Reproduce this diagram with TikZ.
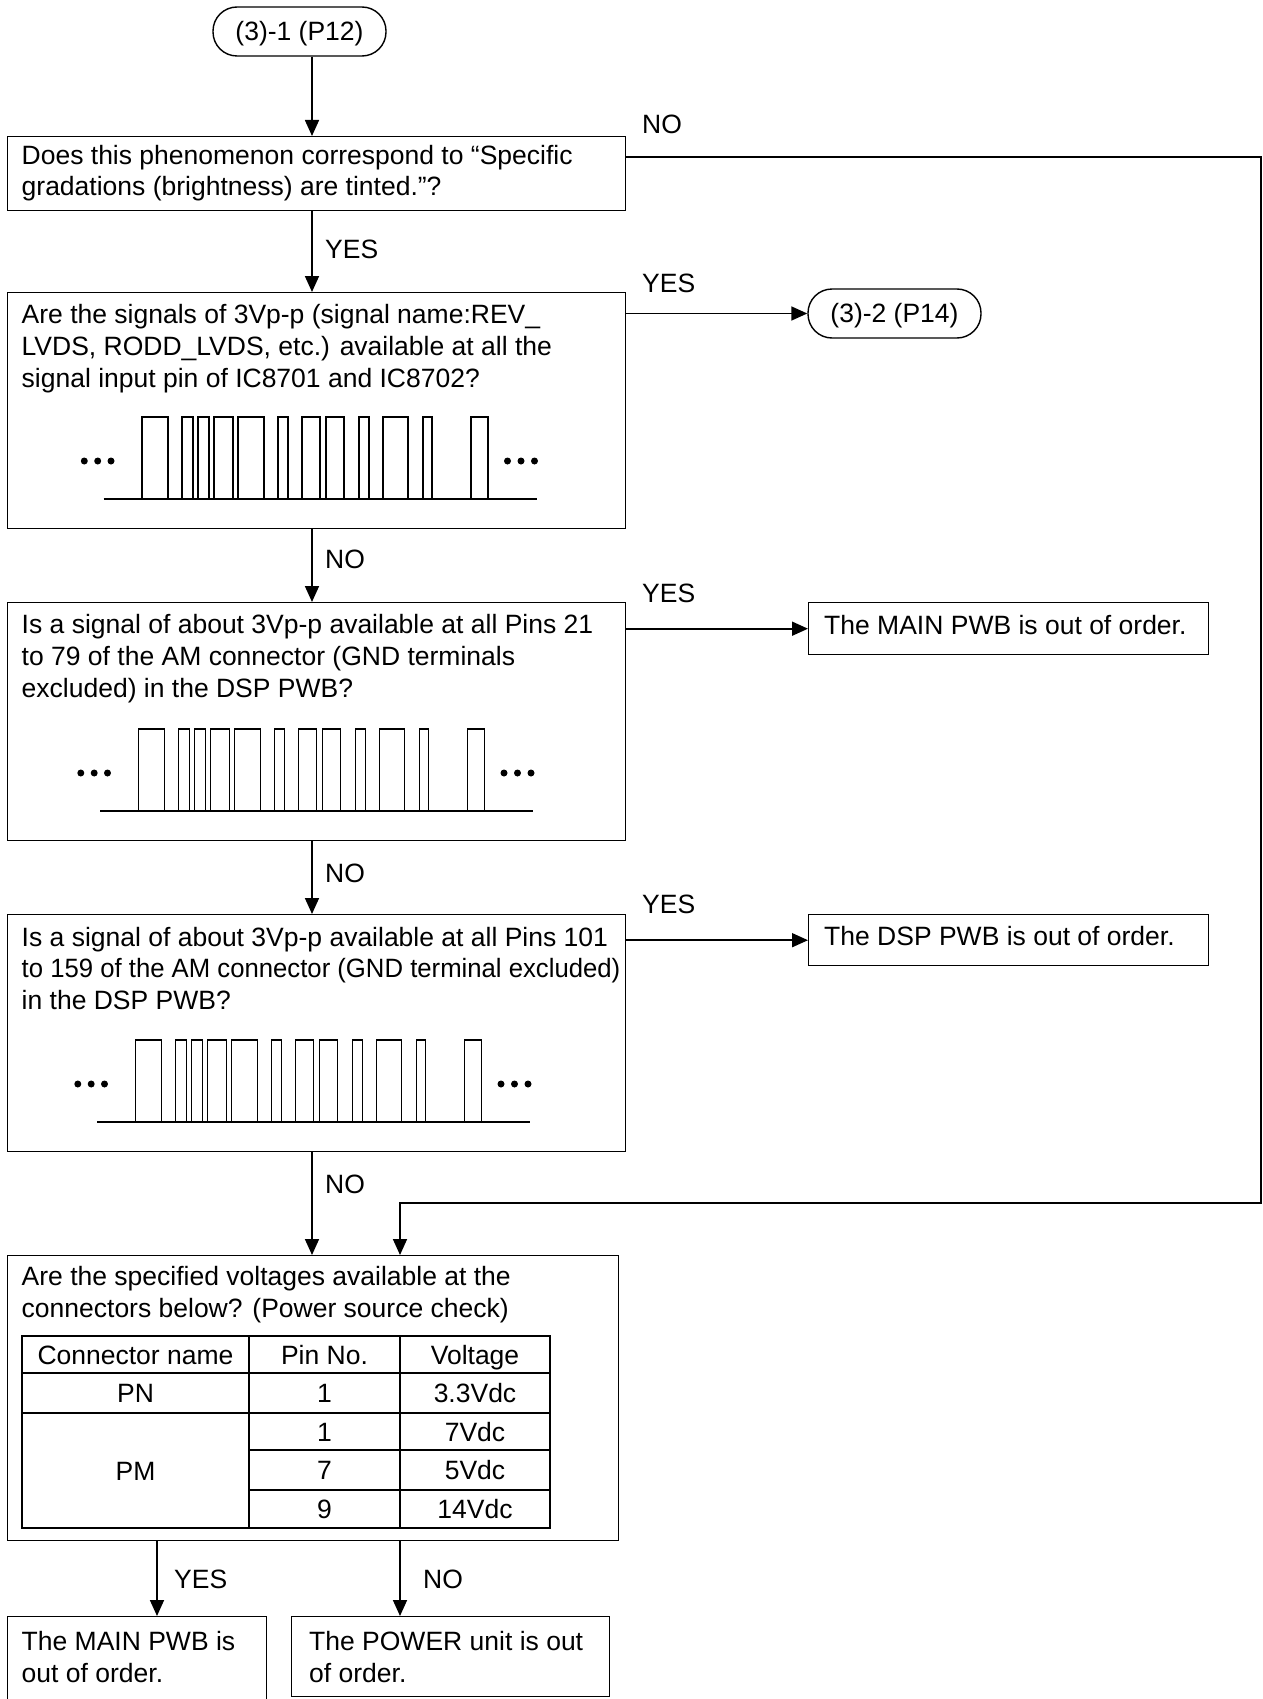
\documentclass[tikz,border=0pt]{standalone}
\usepackage{fontspec}
\setmainfont{Liberation Sans}
\usetikzlibrary{arrows.meta}
\newcommand\myfs{\fontsize{26.5}{31.5}\selectfont}
\begin{document}
\begin{tikzpicture}[x=1pt,y=-1pt,
  box/.style={draw, line width=1.4pt, rectangle, anchor=north west, inner sep=0pt},
  term/.style={draw, line width=1.4pt, rectangle, rounded corners=24pt, inner sep=0pt, minimum width=173pt, minimum height=49pt, text height=18.4pt, text depth=0pt, font=\myfs},
  txt/.style={anchor=base west, inner sep=0pt, font=\myfs},
  ctr/.style={anchor=base, inner sep=0pt, font=\myfs},
  arr/.style={line width=1.7pt, -{Triangle[length=16pt,width=14pt]}},
  tl/.style={line width=1.4pt},
  wl/.style={line width=1.8pt},
  wave/.pic={
    \draw[wl] (0,0) -- (433,0);
    \foreach \a/\b in {38.5/64.5, 78.5/89.5, 94.5/105.5, 110.5/129.5, 134.5/160.5, 174.5/184.5, 198.5/216.5, 222.5/240.5, 255.5/265.5, 279.5/304.5, 319.5/328.5, 367.5/384.5}
      \draw[wl] (\a,0) |- (\b,-82) -- (\b,0);
    \foreach \d in {-19.2,-5.8,7.5,404,417.5,431}
      \fill (\d,-38) circle (3.5pt);
  }
]
\useasboundingbox (0,0) rectangle (1262,1699);
\clip (0,0) rectangle (1262,1699);

% coordinates for connector x positions
\coordinate (mx) at (312,0);
\coordinate (lx) at (400,0);
\coordinate (yx) at (157,0);
\coordinate (c1) at (1261,157);
\coordinate (c2) at (1261,1203);
\coordinate (c3) at (400,1203);

% terminals
\node[term] (t1) at (299.5,31.5) {(3)-1 (P12)};
\node[term] (t2) at (894.5,313.5) {(3)-2 (P14)};

% boxes
\node[box, minimum width=618pt, minimum height=74pt] (b1) at (7,136) {};
\node[box, minimum width=618pt, minimum height=236pt] (b2) at (7,292) {};
\node[box, minimum width=618pt, minimum height=238pt] (b3) at (7,602) {};
\node[box, minimum width=618pt, minimum height=237pt] (b4) at (7,914) {};
\node[box, minimum width=611pt, minimum height=285pt] (b5) at (7,1255) {};
\node[box, minimum width=400pt, minimum height=52pt] (m1) at (808,602) {};
\node[box, minimum width=400pt, minimum height=51pt] (d1) at (808,914) {};
\node[box, minimum width=259pt, minimum height=110pt] (f1) at (7,1616) {};
\node[box, minimum width=318pt, minimum height=80pt] (f2) at (291,1616) {};

% box texts
\node[txt] (b1a) at (21.5,164.5) {Does this phenomenon correspond to “Specific};
\node[txt] (b1b) at (21.5,195.5) {gradations (brightness) are tinted.”?};

\node[txt] (b2a) at (21.5,323) {Are the signals of 3Vp-p (signal name:REV\_};
\node[txt] (b2b) at (21.5,355) {LVDS, RODD\_LVDS, etc.) available at all the};
\node[txt] (b2c) at (21.5,387) {signal input pin of IC8701 and IC8702?};
\pic at (103.5,499) {wave};

\node[txt] (b3a) at (21.5,633) {Is a signal of about 3Vp-p available at all Pins 21};
\node[txt] (b3b) at (21.5,665) {to 79 of the AM connector (GND terminals};
\node[txt] (b3c) at (21.5,697) {excluded) in the DSP PWB?};
\pic at (100,811) {wave};

\node[txt] (b4a) at (21.5,946) {Is a signal of about 3Vp-p available at all Pins 101};
\node[txt] (b4b) at (21.5,977) {\scalebox{0.97}[1]{to 159 of the AM connector (GND terminal excluded)}};
\node[txt] (b4c) at (21.5,1009) {in the DSP PWB?};
\pic at (97,1122) {wave};

\node[txt] (b5a) at (21.5,1285) {Are the specified voltages available at the};
\node[txt] (b5b) at (21.5,1317) {connectors below? (Power source check)};

\node[txt] (m1t) at (824,634) {The MAIN PWB is out of order.};
\node[txt] (d1t) at (824,945) {The DSP PWB is out of order.};

\node[txt] (f1a) at (21.5,1650) {The MAIN PWB is};
\node[txt] (f1b) at (21.5,1682) {out of order.};
\node[txt] (f2a) at (309,1650) {The POWER unit is out};
\node[txt] (f2b) at (309,1682) {of order.};

% table
\draw[tl] (22,1336) rectangle (550,1528);
\draw[tl] (249,1336) -- (249,1528);
\draw[tl] (400,1336) -- (400,1528);
\draw[tl] (22,1373) -- (550,1373);
\draw[tl] (22,1413) -- (550,1413);
\draw[tl] (249,1450) -- (550,1450);
\draw[tl] (249,1490) -- (550,1490);
\node[ctr] (h1) at (135.5,1364) {Connector name};
\node[ctr] (h2) at (324.5,1364) {Pin No.};
\node[ctr] (h3) at (475,1364) {Voltage};
\node[ctr] (r1a) at (135.5,1402.5) {PN};
\node[ctr] (r1b) at (324.5,1402.5) {1};
\node[ctr] (r1c) at (475,1402.5) {3.3Vdc};
\node[ctr] (r2a) at (135.5,1480) {PM};
\node[ctr] (r2b) at (324.5,1441) {1};
\node[ctr] (r2c) at (475,1441) {7Vdc};
\node[ctr] (r3b) at (324.5,1479.5) {7};
\node[ctr] (r3c) at (475,1479.5) {5Vdc};
\node[ctr] (r4b) at (324.5,1518.5) {9};
\node[ctr] (r4c) at (475,1518.5) {14Vdc};

% labels
\node[txt] (l1) at (642,134) {NO};
\node[txt] (l2) at (325,258) {YES};
\node[txt] (l3) at (642,292) {YES};
\node[txt] (l4) at (325,568) {NO};
\node[txt] (l5) at (642,602) {YES};
\node[txt] (l6) at (325,882) {NO};
\node[txt] (l7) at (642,913) {YES};
\node[txt] (l8) at (325,1193) {NO};
\node[txt] (l9) at (174,1588) {YES};
\node[txt] (l10) at (423,1588) {NO};

% connectors
\draw[arr] (t1.south -| mx) -- (b1.north -| mx);
\draw[arr] (b1.south -| mx) -- (b2.north -| mx);
\draw[arr] (b2.south -| mx) -- (b3.north -| mx);
\draw[arr] (b3.south -| mx) -- (b4.north -| mx);
\draw[arr] (b4.south -| mx) -- (b5.north -| mx);
\draw[arr] (b1.east |- c1) -- (c1) -- (c2) -- (c3) -- (b5.north -| c3);
\draw[arr] (b2.east |- t2.west) -- (t2.west);
\draw[arr] (b3.east |- m1.west) -- (m1.west);
\draw[arr] (b4.east |- d1.west) -- (d1.west);
\draw[arr] (b5.south -| yx) -- (f1.north -| yx);
\draw[arr] (b5.south -| lx) -- (f2.north -| lx);
\end{tikzpicture}
\end{document}
